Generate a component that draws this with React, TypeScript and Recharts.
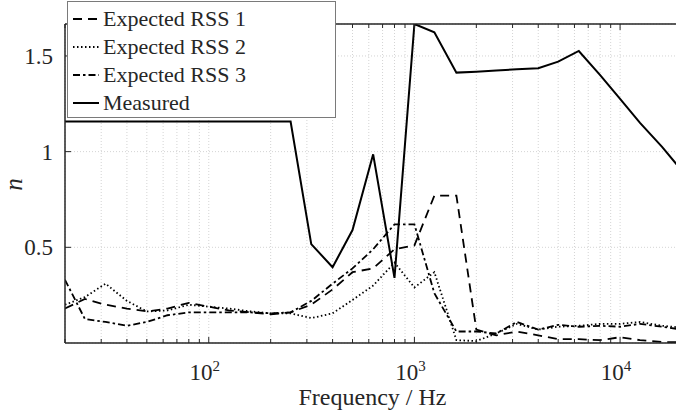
import React from "react";
import { LineChart, Line, XAxis, YAxis, CartesianGrid, Label } from "recharts";

// third-octave band centre frequencies (Hz)
const freqs = [
  20, 25, 31.5, 40, 50, 63, 80, 100, 125, 160, 200, 250, 315, 400, 500, 630,
  800, 1000, 1250, 1600, 2000, 2500, 3150, 4000, 5000, 6300, 8000, 10000,
  12500, 16000, 20000,
];

const rss1 = [
  0.18, 0.23, 0.2, 0.18, 0.165, 0.18, 0.21, 0.19, 0.17, 0.16, 0.15, 0.16, 0.2,
  0.28, 0.37, 0.39, 0.49, 0.51, 0.77, 0.77, 0.07, 0.04, 0.06, 0.04, 0.02, 0.02,
  0.015, 0.03, 0.015, 0.005, 0.005,
];

const rss2 = [
  0.2, 0.24, 0.31, 0.22, 0.165, 0.17, 0.2, 0.19, 0.18, 0.165, 0.155, 0.155,
  0.13, 0.155, 0.225, 0.3, 0.42, 0.29, 0.37, 0.015, 0.01, 0.05, 0.1, 0.07,
  0.085, 0.09, 0.1, 0.1, 0.11, 0.09, 0.08,
];

const rss3 = [
  0.33, 0.125, 0.11, 0.09, 0.11, 0.145, 0.16, 0.16, 0.16, 0.16, 0.155, 0.16,
  0.22, 0.31, 0.39, 0.49, 0.62, 0.62, 0.26, 0.06, 0.06, 0.05, 0.11, 0.07,
  0.095, 0.085, 0.09, 0.085, 0.1, 0.085, 0.07,
];

const measured = [
  1.157, 1.157, 1.157, 1.157, 1.157, 1.157, 1.157, 1.157, 1.157, 1.157, 1.157,
  1.157, 0.517, 0.396, 0.59, 0.986, 0.34, 1.667, 1.624, 1.413, 1.418, 1.424,
  1.43, 1.436, 1.47, 1.526, 1.4, 1.276, 1.15, 1.025, 0.9,
];

// grid / tick positions on the log axis
const xTicks = [
  20, 30, 40, 50, 60, 70, 80, 90, 100, 200, 300, 400, 500, 600, 700, 800, 900,
  1000, 2000, 3000, 4000, 5000, 6000, 7000, 8000, 9000, 10000, 20000,
];
const decades = [100, 1000, 10000];
const yTicks = [0.5, 1, 1.5];

const data = freqs.map((f, i) => ({
  f,
  rss1: rss1[i],
  rss2: rss2[i],
  rss3: rss3[i],
  measured: measured[i],
}));

const FONT = "Liberation Serif";
const TXT = "#262626";
const AX = "#262626";

const series = [
  { key: "rss1", name: "Expected RSS 1", dash: "9 6", width: 1.8 },
  { key: "rss2", name: "Expected RSS 2", dash: "1.5 2.5", width: 1.8 },
  { key: "rss3", name: "Expected RSS 3", dash: "7 3 2.5 3", width: 1.8 },
  { key: "measured", name: "Measured", dash: undefined, width: 2 },
];

const BottomTick = (props: any) => {
  const { x, y, payload } = props;
  const v = payload.value;
  const major = decades.includes(v);
  return (
    <g>
      <line x1={x} x2={x} y1={y} y2={y - (major ? 6 : 4)} stroke={AX} strokeWidth={1} />
      {major && (
        <text x={x - 4} y={y + 37} textAnchor="middle" style={{ fontFamily: FONT }} fontSize={23} fill={TXT}>
          10
          <tspan dy={-9} fontSize={15}>
            {Math.round(Math.log10(v))}
          </tspan>
        </text>
      )}
    </g>
  );
};

const TopTick = (props: any) => {
  const { x, y, payload } = props;
  const major = decades.includes(payload.value);
  return <line x1={x} x2={x} y1={y} y2={y + (major ? 6 : 4)} stroke={AX} strokeWidth={1} />;
};

const LeftTick = (props: any) => {
  const { x, y, payload } = props;
  return (
    <g>
      <line x1={x} x2={x + 6} y1={y} y2={y} stroke={AX} strokeWidth={1} />
      <text x={x - 12} y={y + 8} textAnchor="end" style={{ fontFamily: FONT }} fontSize={23} fill={TXT}>
        {payload.value}
      </text>
    </g>
  );
};

const RightTick = (props: any) => {
  const { x, y } = props;
  return <line x1={x} x2={x - 6} y1={y} y2={y} stroke={AX} strokeWidth={1} />;
};

const LegendBox = () => (
  <div
    style={{
      position: "absolute",
      left: 67,
      top: 1,
      width: 267,
      height: 115,
      border: "1px solid #7a7a7a",
      background: "#fff",
      fontFamily: FONT,
      fontSize: 22,
      color: TXT,
    }}
  >
    {series.map((s, i) => (
      <div
        key={s.key}
        style={{ position: "absolute", left: 4, top: 3 + i * 28, height: 28, display: "flex", alignItems: "center" }}
      >
        <svg width={28} height={10}>
          <line x1={1} x2={27} y1={5} y2={5} stroke="#000" strokeWidth={2} strokeDasharray={s.dash} />
        </svg>
        <span style={{ marginLeft: 3, lineHeight: "28px", whiteSpace: "nowrap" }}>{s.name}</span>
      </div>
    ))}
  </div>
);

export default function App() {
  return (
    <div style={{ position: "fixed", left: 0, top: 0, width: 676, height: 419, overflow: "hidden", background: "#fff", fontFamily: FONT }}>
      <LineChart width={690} height={419} data={data} margin={{ top: 23, right: 7, bottom: 16, left: 15 }}>
        <CartesianGrid stroke="#d4d4d4" strokeDasharray="1 2" strokeWidth={1} />
        <XAxis
          dataKey="f"
          type="number"
          scale="log"
          domain={[20, 20000]}
          ticks={xTicks}
          interval={0}
          height={60}
          tickSize={0}
          tickMargin={0}
          tickLine={false}
          axisLine={{ stroke: AX, strokeWidth: 1.5 }}
          tick={<BottomTick />}
          allowDataOverflow
        >
          <Label
            content={(p: any) => {
              const vb = p.viewBox;
              return (
                <text x={vb.x + vb.width / 2 - 1} y={vb.y + 62} textAnchor="middle" style={{ fontFamily: FONT }} fontSize={24} fill={TXT}>
                  Frequency / Hz
                </text>
              );
            }}
          />
        </XAxis>
        <XAxis
          xAxisId="top"
          dataKey="f"
          type="number"
          scale="log"
          domain={[20, 20000]}
          ticks={xTicks}
          interval={0}
          orientation="top"
          height={1}
          tickSize={0}
          tickMargin={0}
          tickLine={false}
          axisLine={{ stroke: AX, strokeWidth: 1.5 }}
          tick={<TopTick />}
          allowDataOverflow
        />
        <YAxis
          type="number"
          domain={[0, 1.667]}
          ticks={yTicks}
          interval={0}
          width={50}
          tickSize={0}
          tickMargin={0}
          tickLine={false}
          axisLine={{ stroke: AX, strokeWidth: 1.5 }}
          tick={<LeftTick />}
          allowDataOverflow
        >
          <Label
            content={(p: any) => {
              const vb = p.viewBox;
              const cx = 13;
              const cy = vb.y + vb.height / 2 + 1;
              return (
                <text
                  x={cx}
                  y={cy}
                  transform={`rotate(-90 ${cx} ${cy})`}
                  textAnchor="middle"
                  dominantBaseline="central"
                  style={{ fontFamily: FONT, fontStyle: "italic" }}
                  fontSize={25}
                  fill={TXT}
                >
                  n
                </text>
              );
            }}
          />
        </YAxis>
        <YAxis
          yAxisId="right"
          orientation="right"
          type="number"
          domain={[0, 1.667]}
          ticks={yTicks}
          interval={0}
          width={1}
          tickSize={0}
          tickMargin={0}
          tickLine={false}
          axisLine={{ stroke: AX, strokeWidth: 1.5 }}
          tick={<RightTick />}
        />
        {series.map((s) => (
          <Line
            key={s.key}
            dataKey={s.key}
            name={s.name}
            type="linear"
            stroke="#000"
            strokeWidth={s.width}
            strokeDasharray={s.dash}
            dot={false}
            activeDot={false}
            isAnimationActive={false}
          />
        ))}
      </LineChart>
      <LegendBox />
    </div>
  );
}
